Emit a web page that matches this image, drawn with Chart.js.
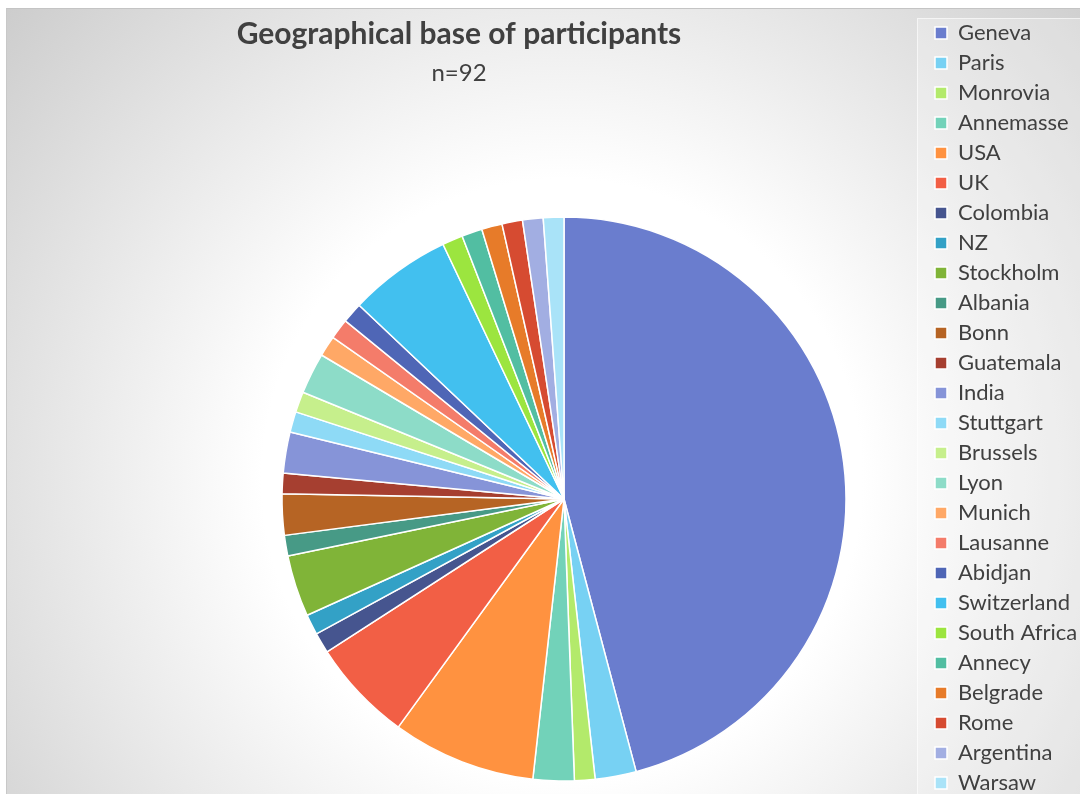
<!DOCTYPE html>
<html>
<head>
<meta charset="utf-8">
<script src="https://cdn.jsdelivr.net/npm/chart.js@4"></script>
<style>
    body { margin: 0; background: #fff; overflow: hidden; }
    #vanjski {
        position: absolute; left: 6px; top: 8px; width: 1074px; height: 786px;
        overflow: hidden;
        border-top: 1px solid #c4c4c4; border-left: 1px solid #c8c8c8;
        background: radial-gradient(circle at 555px 470px, #ffffff 0px, #ffffff 300px, #c9c9c9 760px);
    }
    #grafikon { position: absolute; left: 0; top: 0; }
</style>
</head>
<body>
<div id="vanjski">
    <canvas id="grafikon" width="1074" height="975"></canvas>
</div>
<script>
var naslov = "Geographical base of participants";
var podnaslov = "n=92";

var gradovi = ["Geneva", "Paris", "Monrovia", "Annemasse", "USA", "UK", "Colombia", "NZ",
    "Stockholm", "Albania", "Bonn", "Guatemala", "India", "Stuttgart", "Brussels", "Lyon",
    "Munich", "Lausanne", "Abidjan", "Switzerland", "South Africa", "Annecy", "Belgrade",
    "Rome", "Argentina", "Warsaw"];
var brojSudionika = [39, 2, 1, 2, 7, 5, 1, 1, 3, 1, 2, 1, 2, 1, 1, 2, 1, 1, 1, 5, 1, 1, 1, 1, 1, 1];
var boje = ['#6a7dce', '#77d1f3', '#b3ea6b', '#72d2b9', '#ff9240', '#f25f45', '#46558f', '#33a1c6',
    '#80b438', '#479a86', '#b66424', '#a63f30', '#8694d8', '#8edaf6', '#c6ef8c', '#8ddcc8',
    '#ffa866', '#f47c6a', '#4f66b6', '#42c0ef', '#9ce53f', '#52bea2', '#e77b29',
    '#d64b31', '#a2aee2', '#a9e3f8'];

Chart.defaults.font.family = "Lato, sans-serif";

// naslov i okvir legende crtamo sami
var naslovPlugin = {
    id: 'naslovPlugin',
    beforeDraw: function(chart) {
        var ctx = chart.ctx;
        var leg = chart.legend;
        ctx.save();
        ctx.fillStyle = 'rgba(255,255,255,0.25)';
        ctx.strokeStyle = 'rgba(255,255,255,0.6)';
        ctx.lineWidth = 1;
        ctx.fillRect(leg.left - 10, leg.top + 4, 300, 1000);
        ctx.strokeRect(leg.left - 9.5, leg.top + 4.5, 300, 1000);
        ctx.restore();
    },
    afterDraw: function(chart) {
        var ctx = chart.ctx;
        ctx.save();
        ctx.fillStyle = '#404040';
        ctx.textAlign = 'center';
        ctx.textBaseline = 'middle';
        ctx.font = "bold 30px Lato";
        ctx.fillText(naslov, 452, 25);
        ctx.font = "24px Lato";
        ctx.fillText(podnaslov, 452, 64);
        ctx.restore();
    }
};

new Chart("grafikon", {
    type: "pie",
    data: {
        labels: gradovi,
        datasets: [{
            backgroundColor: boje,
            borderColor: '#ffffff',
            borderWidth: 1.5,
            data: brojSudionika
        }]
    },
    options: {
        responsive: false,
        animation: false,
        radius: 282,
        layout: {
            padding: {left: 194, right: 0, top: 5, bottom: 0}
        },
        plugins: {
            legend: {
                position: 'right',
                align: 'start',
                maxWidth: 154,
                labels: {
                    boxWidth: 12,
                    boxHeight: 12,
                    padding: 8,
                    color: '#404040',
                    font: {size: 22}
                }
            },
            tooltip: {enabled: false}
        }
    },
    plugins: [naslovPlugin]
});
</script>
</body>
</html>
